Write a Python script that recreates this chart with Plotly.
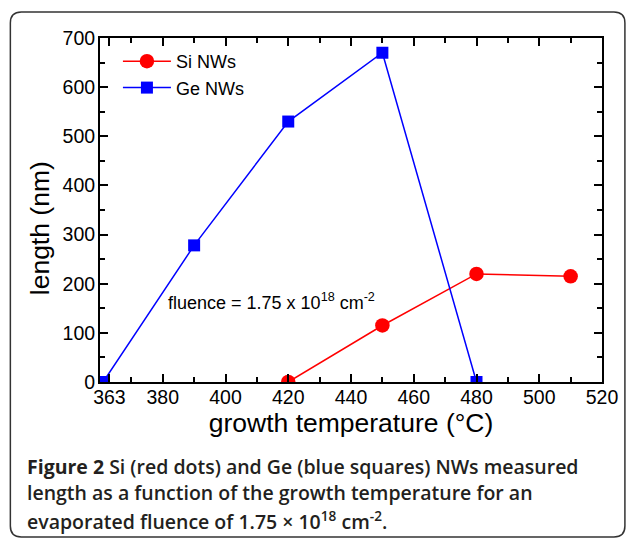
import plotly.graph_objects as go

# Data
si_temp = [420, 450, 480, 510]
si_len = [0, 115, 220, 215]
ge_temp = [361, 390, 420, 450, 480]
ge_len = [0, 278, 530, 670, 0]
x_ticks = [363, 380, 400, 420, 440, 460, 480, 500, 520]
x_minor = [370, 390, 410, 430, 450, 470, 490, 510]

W, H = 630, 538
L, R, T, B = 100, 604, 38, 382  # plot area in px


def px(x):
    return (x - L) / (R - L)


def py(y):
    return (B - y) / (B - T)


FONT = "Arial, Liberation Sans, sans-serif"

fig = go.Figure()
fig.add_trace(go.Scatter(
    x=si_temp, y=si_len, name="Si NWs", mode="lines+markers",
    line=dict(color="#ff0000", width=1.5),
    marker=dict(symbol="circle", size=14.5, color="#ff0000"),
))
fig.add_trace(go.Scatter(
    x=ge_temp, y=ge_len, name="Ge NWs", mode="lines+markers",
    line=dict(color="#0000ff", width=1.5),
    marker=dict(symbol="square", size=12, color="#0000ff"),
))

axis_common = dict(
    showline=True, linecolor="black", linewidth=2, mirror="ticks",
    ticks="inside", ticklen=8, tickwidth=2, tickcolor="black",
    showgrid=False, zeroline=False,
    tickfont=dict(family=FONT, size=19.5, color="black"),
)

fig.update_xaxes(
    range=[360, 520], tickmode="array", tickvals=x_ticks,
    minor=dict(tickmode="array", tickvals=x_minor, ticks="inside",
               ticklen=5, tickwidth=2, tickcolor="black"),
    title=dict(text="growth temperature (°C)", font=dict(family=FONT, size=26.5, color="black"), standoff=4),
    ticklabelstandoff=-3,
    **axis_common,
)
fig.update_yaxes(
    range=[0, 700], tickmode="linear", tick0=0, dtick=100,
    minor=dict(tick0=0, dtick=50, ticks="inside",
               ticklen=5, tickwidth=2, tickcolor="black"),
    ticklabelstandoff=-1,
    **axis_common,
)

# y-axis title
fig.add_annotation(
    x=px(40), y=py(228), xref="paper", yref="paper",
    text="length (nm)", textangle=-90, showarrow=False,
    xanchor="center", yanchor="middle",
    font=dict(family=FONT, size=26.5, color="black"),
)

fig.add_annotation(
    x=px(166), y=py(301), xref="paper", yref="paper",
    text="fluence = 1.75 x 10<sup>18</sup> cm<sup>-2</sup>",
    showarrow=False, xanchor="left", yanchor="middle",
    font=dict(family=FONT, size=18, color="black"),
)

CAP = "Open Sans, Noto Sans, sans-serif"
cap_lines = [
    "<b>Figure 2</b> Si (red dots) and Ge (blue squares) NWs measured",
    "length as a function of the growth temperature for an",
    "evaporated fluence of 1.75 × 10<sup>18</sup> cm<sup>-2</sup>.",
]
cap_y = [466, 492.5, 520]
for txt, yy in zip(cap_lines, cap_y):
    fig.add_annotation(
        x=px(25), y=py(yy), xref="paper", yref="paper", text=txt,
        showarrow=False, xanchor="left", yanchor="middle",
        font=dict(family=CAP, size=19.5, color="#231f20", weight=600),
    )

# rounded frame
x0, x1, y0, y1, r = 10, 627, 12, 537, 11
path = (
    f"M {px(x0)},{py(y1 - r)} L {px(x0)},{py(y0 + r)} "
    f"Q {px(x0)},{py(y0)} {px(x0 + r)},{py(y0)} "
    f"L {px(x1 - r)},{py(y0)} Q {px(x1)},{py(y0)} {px(x1)},{py(y0 + r)} "
    f"L {px(x1)},{py(y1 - r)} Q {px(x1)},{py(y1)} {px(x1 - r)},{py(y1)} "
    f"L {px(x0 + r)},{py(y1)} Q {px(x0)},{py(y1)} {px(x0)},{py(y1 - r)} Z"
)
fig.add_shape(type="path", path=path, xref="paper", yref="paper",
              line=dict(color="#333333", width=1.5), layer="above")

fig.update_layout(
    width=W, height=H,
    margin=dict(l=L, r=W - R, t=T, b=H - B, pad=0),
    paper_bgcolor="white", plot_bgcolor="white",
    showlegend=True,
    legend=dict(x=px(118), y=py(43), xanchor="left", yanchor="top",
                bgcolor="rgba(0,0,0,0)", font=dict(family=FONT, size=18, color="black"),
                itemwidth=48, tracegroupgap=0),
)

fig.write_html(
    "out.html",
    config={"displayModeBar": False},
    post_script="document.body.style.margin='0px';document.body.style.overflow='hidden';",
)
